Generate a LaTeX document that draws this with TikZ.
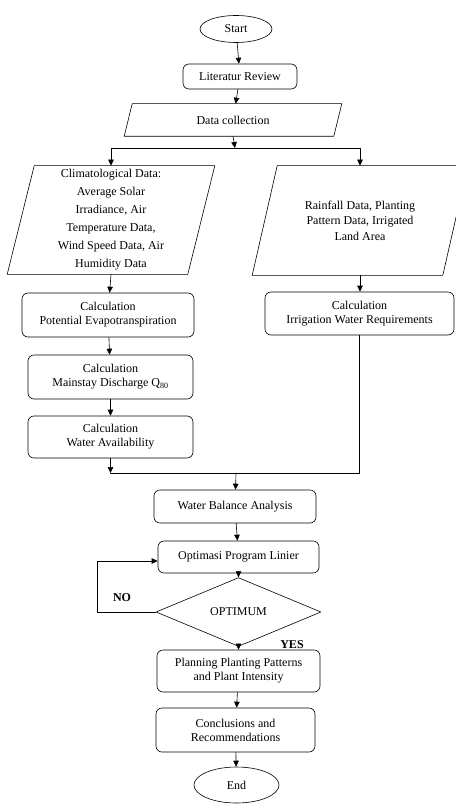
\documentclass[tikz,border=0pt]{standalone}
\usepackage{fontspec}
\setmainfont{Liberation Serif}
\usetikzlibrary{shapes.geometric,arrows.meta}
\tikzset{
	box/.style={draw,rounded corners=6pt,align=center,inner sep=2pt},
	iobox/.style={align=center,inner sep=2pt},
	term/.style={draw,ellipse,inner sep=1pt},
	lbl/.style={font=\fontsize{12}{14}\selectfont\bfseries}
}
% parallelogram round a node: #1 node name, #2 half of the slant
\newcommand\drawio[2]{\draw ([xshift=#2]#1.north west) -- ([xshift=#2]#1.north east) -- ([xshift=-#2]#1.south east) -- ([xshift=-#2]#1.south west) -- cycle;}
\begin{document}
\begin{tikzpicture}[x=1pt,y=-1pt,line cap=round,line join=round,>={Triangle[length=6pt,width=5.5pt]},font=\fontsize{12}{14}\selectfont,line width=0.6pt]
	\useasboundingbox (0,0) rectangle (455,810);
	\path
	(235,148) coordinate (split)
	(236,473) coordinate (merge);
	\node[term,minimum width=72pt,minimum height=27pt] (start) at (236,29) {Start};
	\node[box,minimum width=114pt,minimum height=25pt] (lit) at (240,76.5) {Literatur Review};
	\node[iobox,minimum width=209pt,minimum height=32pt] (data) at (233,120) {Data collection};
	\node[iobox,minimum width=180pt,minimum height=108pt,font=\fontsize{12}{18}\selectfont] (clim) at (111,220) {Climatological Data:\\Average Solar\\Irradiance, Air\\Temperature Data,\\Wind Speed Data, Air\\Humidity Data};
	\node[iobox,minimum width=190pt,minimum height=109pt,font=\fontsize{12}{15.5}\selectfont] (rain) at (360,220.5) {Rainfall Data, Planting\\Pattern Data, Irrigated\\Land Area};
	\drawio{data}{4pt}
	\drawio{clim}{13.5pt}
	\drawio{rain}{12.5pt}
	\node[box,minimum width=172pt,minimum height=44pt] (evap) at (108,315) {Calculation\\Potential Evapotranspiration};
	\node[box,minimum width=189pt,minimum height=43pt] (irr) at (359.5,313.5) {Calculation\\Irrigation Water Requirements};
	\node[box,minimum width=165pt,minimum height=44pt] (q80) at (110.5,377) {Calculation\\Mainstay Discharge Q\textsubscript{80}};
	\node[box,minimum width=165pt,minimum height=42pt] (avail) at (110.5,437) {Calculation\\Water Availability};
	\node[box,minimum width=162pt,minimum height=33pt] (bal) at (235,506.5) {Water Balance Analysis};
	\node[box,minimum width=161pt,minimum height=32pt] (opt) at (238.5,557) {Optimasi Program Linier};
	\node[draw,diamond,minimum width=165pt,minimum height=46pt,inner sep=1pt] (chk) at (238.5,612) {OPTIMUM};
	\node[box,minimum width=163pt,minimum height=42pt] (plan) at (238.5,671) {Planning Planting Patterns\\and Plant Intensity};
	\node[box,minimum width=159pt,minimum height=44pt] (concl) at (235.5,730) {Conclusions and\\Recommendations};
	\node[term,minimum width=85pt,minimum height=36pt] (end) at (236.5,785) {End};
	\node[lbl] (no) at (122,598) {NO};
	\node[lbl] (yes) at (292,645) {YES};
	% top part
	\draw[->] (start) -- (lit);
	\draw[->] (lit) -- (data);
	\draw[->] (data.south) -- (split);
	\draw[->] (split) -| (clim.north);
	\draw[->] (split) -| (rain.north);
	% left column
	\draw[->] (clim.south) -- (evap);
	\draw[->] (evap) -- (q80);
	\draw[->] (q80) -- (avail);
	\draw[->] (avail) -- (avail.south |- merge);
	% right column
	\draw[->] (rain.south) -- (irr.north -| rain.south);
	\draw (irr.south) -- (irr.south |- merge) -- (avail.south |- merge);
	\draw[->] (merge) -- (bal);
	\draw[->] (bal) -- (opt);
	\draw[->] (opt) -- (chk);
	\draw[->] (chk.west) -- ++(-58,0) |- ([yshift=-4pt]opt.west);
	\draw[->] (chk) -- (plan);
	\draw[->] (plan) -- (concl);
	\draw[->] (concl) -- (end);
\end{tikzpicture}
\end{document}
